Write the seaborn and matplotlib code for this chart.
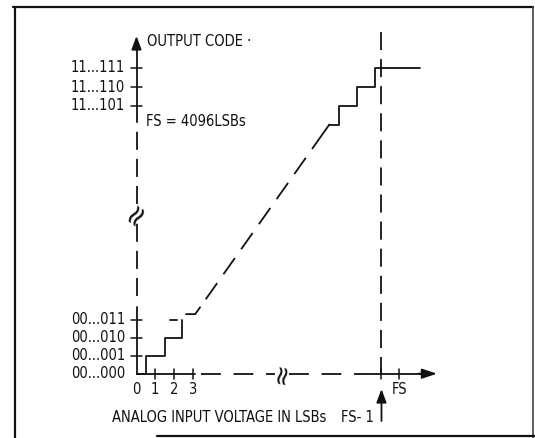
import matplotlib
matplotlib.use("Agg")
import matplotlib.pyplot as plt
import seaborn as sns
import pandas as pd
import numpy as np

# ---------------- data (LSB units on x, code units on y) ----------------
low_codes = [0, 1, 2, 3]
low_code_labels = ["00...000", "00...001", "00...010", "00...011"]
high_codes = [14.84, 15.88, 16.96]
high_code_labels = ["11...101", "11...110", "11...111"]
x_ticks = [0, 1, 2, 3]
x_tick_labels = ["0", "1", "2", "3"]
fs_minus_1 = 13.1
fs = 14.05

# bottom staircase (solid)
low_step_x = [0, 0.5, 0.5, 1.5, 1.5, 2.45, 2.45]
low_step_y = [0, 0, 1, 1, 2, 2, 3]
# short dash at code 3
dash3_x = [1.77, 2.19]
dash3_y = [3, 3]
# start of ramp
ramp_start_x = [2.65, 3.14]
ramp_start_y = [3.3, 3.3]
# dashed ramp
ramp_x = [3.14, 10.31]
ramp_y = [3.3, 13.8]
# top staircase (solid)
top_step_x = [10.31, 10.82, 10.82, 11.81, 11.81, 12.78, 12.78, 15.15]
top_step_y = [13.8, 13.8, 14.84, 14.84, 15.88, 15.88, 16.96, 16.96]

# ---------------- figure ----------------
sns.set_style("white")
plt.rcParams['font.family'] = ['DejaVu Sans']
plt.rcParams['font.stretch'] = 'condensed'

fig = plt.figure(figsize=(5.35, 4.38), dpi=100)
ax = fig.add_axes([0, 0, 1, 1])
ux, uy = 18.7, 18.05
ax.set_xlim(-136.5 / ux, (535 - 136.5) / ux)
ax.set_ylim((373.7 - 438) / uy, 373.7 / uy)
ax.axis("off")

K = "#111111"
LW = 1.3
FS_TXT = 10.5

def solid(xs, ys, lw=LW, color=K):
    df = pd.DataFrame({"x": xs, "y": ys})
    sns.lineplot(data=df, x="x", y="y", sort=False, estimator=None, ax=ax,
                 color=color, linewidth=lw)

def dashed(xs, ys, pattern, lw=LW, color=K):
    ax.plot(xs, ys, color=color, linewidth=lw, linestyle=(0, pattern),
            solid_capstyle="butt", dash_capstyle="butt")

def on_ramp(x):
    return ramp_y[0] + (x - ramp_x[0]) * (ramp_y[1] - ramp_y[0]) / (ramp_x[1] - ramp_x[0])

# staircase
solid(low_step_x, low_step_y)
solid(dash3_x, dash3_y)
solid(ramp_start_x + [3.4], ramp_start_y + [on_ramp(3.4)])
dashed([3.7, ramp_x[1] - 0.3], [on_ramp(3.7), on_ramp(ramp_x[1] - 0.3)], (11, 6))
solid([ramp_x[1] - 0.3, ramp_x[1]], [on_ramp(ramp_x[1] - 0.3), ramp_y[1]])
solid(top_step_x, top_step_y)

# y axis
y_arrow_top = 18.71
solid([0, 0], [0, 3.7])
dashed([0, 0], [4.3, 8.4], (10, 5))
dashed([0, 0], [9.4, 14.17], (10, 5))
solid([0, 0], [14.17, y_arrow_top - 0.6])
ax.annotate("", xy=(0, y_arrow_top), xytext=(0, y_arrow_top - 0.8),
            arrowprops=dict(arrowstyle="-|>,head_length=0.8,head_width=0.3",
                            color=K, lw=LW, shrinkA=0, shrinkB=0))

# x axis
x_arrow_end = 16.07
solid([0, 3.13], [0, 0])
dashed([3.45, 7.4], [0, 0], (11, 7))
dashed([8.15, 12.06], [0, 0], (11, 7))
solid([12.06, x_arrow_end - 0.5], [0, 0])
ax.annotate("", xy=(x_arrow_end, 0), xytext=(x_arrow_end - 1.0, 0),
            arrowprops=dict(arrowstyle="-|>,head_length=0.9,head_width=0.3",
                            color=K, lw=LW, shrinkA=0, shrinkB=0))

# break symbols
ax.text(0, 8.9, "≈", rotation=55, ha="center", va="center", fontsize=21,
        fontstretch="normal", color=K)
ax.text(7.78, 0, "≈", rotation=80, ha="center", va="center", fontsize=19,
        fontstretch="normal", color=K)

# FS-1 dashed vertical
dashed([fs_minus_1, fs_minus_1], [18.93, 0], (10, 5))

# ticks
for c in low_codes[1:] + high_codes:
    solid([-0.27, 0.27], [c, c], lw=1.1)
for t in x_ticks[1:] + [fs_minus_1, fs]:
    solid([t, t], [-0.28, 0.28], lw=1.1)

# tick labels
for c, lab in zip(low_codes + high_codes, low_code_labels + high_code_labels):
    ax.text(-0.61, c, lab, ha="right", va="center", fontsize=FS_TXT, color=K)
for t, lab in zip(x_ticks, x_tick_labels):
    ax.text(t, -0.9, lab, ha="center", va="center", fontsize=FS_TXT, color=K)
ax.text(fs, -0.85, "FS", ha="center", va="center", fontsize=FS_TXT, color=K)

# FS-1 arrow and label
ax.annotate("", xy=(fs_minus_1, -0.85), xytext=(fs_minus_1, -2.62),
            arrowprops=dict(arrowstyle="-|>,head_length=0.8,head_width=0.3",
                            color=K, lw=LW, shrinkA=0, shrinkB=0))
ax.text(12.72, -2.4, "FS- 1", ha="right", va="center", fontsize=FS_TXT, color=K)

# texts
ax.text(0.56, 18.43, "OUTPUT CODE ·", ha="left", va="center", fontsize=FS_TXT, color=K)
ax.text(0.51, 14.0, "FS = 4096LSBs", ha="left", va="center", fontsize=FS_TXT, color=K)
ax.text(4.4, -2.4, "ANALOG INPUT VOLTAGE IN LSBs", ha="center", va="center",
        fontsize=FS_TXT, color=K)

# frame
solid([-6.52, -6.52], [-3.6, 20.32], lw=1.6)
solid([-6.6, 21.2], [20.32, 20.32], lw=1.6)
solid([21.2, 21.2], [20.32, -3.6], lw=1.2, color="#444444")
solid([1.1, 21.4], [-3.45, -3.45], lw=1.6)

fig.savefig("out.png", dpi=100)
